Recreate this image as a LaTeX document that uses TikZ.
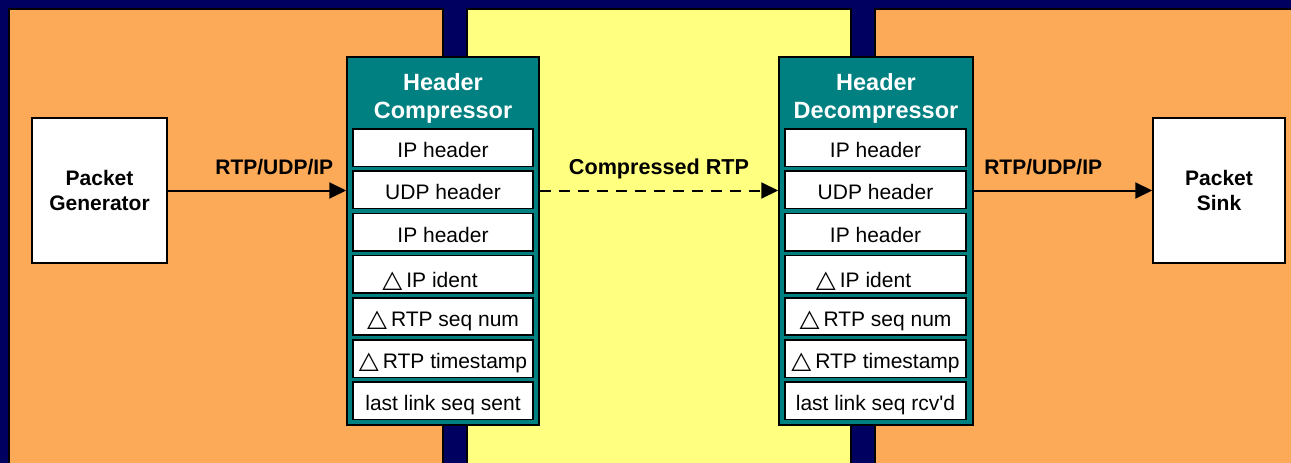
\documentclass[tikz,border=0pt]{standalone}
\usepackage{fontspec}
\setmainfont{Liberation Sans}
\newfontfamily\symfont{DejaVu Sans}
\usepackage{graphicx}
\usetikzlibrary{arrows.meta}

\definecolor{navybg}{RGB}{0,0,96}
\definecolor{panelorange}{RGB}{253,170,88}
\definecolor{panelyellow}{RGB}{255,255,128}
\definecolor{tealbox}{RGB}{0,128,128}

% open delta sign used in the difference fields
\newcommand{\dlt}{\resizebox{20pt}{15.5pt}{\symfont\bfseries △}\hspace{4pt}}

\begin{document}
\begin{tikzpicture}[x=1pt,y=-1pt,
  panel/.style={draw=black, line width=1.5pt},
  endbox/.style={draw=black, fill=white, line width=1.5pt, minimum width=135pt,
    minimum height=145pt, align=center, inner sep=0pt,
    font=\fontsize{21}{25}\selectfont\bfseries},
  codec/.style={draw=black, fill=tealbox, line width=1.5pt, inner sep=0pt,
    minimum height=368pt},
  codectitle/.style={text=white, anchor=base, inner sep=0pt,
    font=\fontsize{23.5}{27.6}\selectfont\bfseries},
  fieldtext/.style={inner sep=0pt, text height=20pt, text depth=0pt,
    font=\fontsize{21}{25}\selectfont},
  field/.style={fieldtext, draw=black, fill=white, line width=1.5pt,
    minimum width=180pt, minimum height=37.4pt},
  flow/.style={line width=2pt, -{Triangle[length=17pt,width=16pt]}},
  flowlabel/.style={anchor=base, yshift=16pt, inner sep=0pt,
    font=\fontsize{21}{25}\selectfont\bfseries}
]
\useasboundingbox (0,0) rectangle (1291,463);

% backdrop and the three panels
\fill[navybg] (0,0) rectangle (1291,463);
\draw[panel, fill=panelorange] (9,9) rectangle (443,470);
\draw[panel, fill=panelyellow] (467,9) rectangle (851,470);
\draw[panel, fill=panelorange] (875,9) rectangle (1300,470);

% compressor and decompressor blocks
\node[codec, minimum width=192pt] (comp) at (443,241) {};
\node[codec, minimum width=194pt] (decomp) at (876,241) {};

\node[codectitle] (compA) at (443,90.7) {Header};
\node[codectitle] (compB) at (443,118.3) {Compressor};
\node[codectitle] (decompA) at (876,90.7) {Header};
\node[codectitle] (decompB) at (876,118.3) {Decompressor};

% context fields kept by the compressor
\node[field] (c1) at (443,147.7) {IP header};
\node[field] (c2) at (443,189.9) {UDP header};
\node[field] (c3) at (443,232.1) {IP header};
\node[field, label={[fieldtext, xshift=-13pt, yshift=-3.5pt]center:\dlt IP ident}] (c4) at (443,274.3) {};
\node[field] (c5) at (443,316.5) {\dlt RTP seq num};
\node[field] (c6) at (443,358.7) {\dlt RTP timestamp};
\node[field] (c7) at (443,400.9) {last link seq sent};

% context fields kept by the decompressor
\node[field, minimum width=181pt] (d1) at (875.5,147.7) {IP header};
\node[field, minimum width=181pt] (d2) at (875.5,189.9) {UDP header};
\node[field, minimum width=181pt] (d3) at (875.5,232.1) {IP header};
\node[field, minimum width=181pt, label={[fieldtext, xshift=-12pt, yshift=-3.5pt]center:\dlt IP ident}] (d4) at (875.5,274.3) {};
\node[field, minimum width=181pt] (d5) at (875.5,316.5) {\dlt RTP seq num};
\node[field, minimum width=181pt] (d6) at (875.5,358.7) {\dlt RTP timestamp};
\node[field, minimum width=181pt] (d7) at (875.5,400.9) {last link seq rcv\textquotesingle d};

% end points
\node[endbox] (gen) at (99.5,190.5) {Packet\\Generator};
\node[endbox, minimum width=132pt] (sink) at (1219,190.5) {Packet\\Sink};

% packet flow
\draw[flow] (gen.east) -- node[flowlabel, pos=0.597] (lblin) {RTP/UDP/IP} (gen.east -| comp.west);
\draw[flow, dash pattern=on 11pt off 8pt] (comp.east |- gen.east) -- node[flowlabel, pos=0.5, font=\fontsize{21.6}{25}\selectfont\bfseries] (lbllink) {Compressed RTP} (decomp.west |- gen.east);
\draw[flow] (decomp.east |- sink.west) -- node[flowlabel, pos=0.389] (lblout) {RTP/UDP/IP} (sink.west);
\end{tikzpicture}
\end{document}
